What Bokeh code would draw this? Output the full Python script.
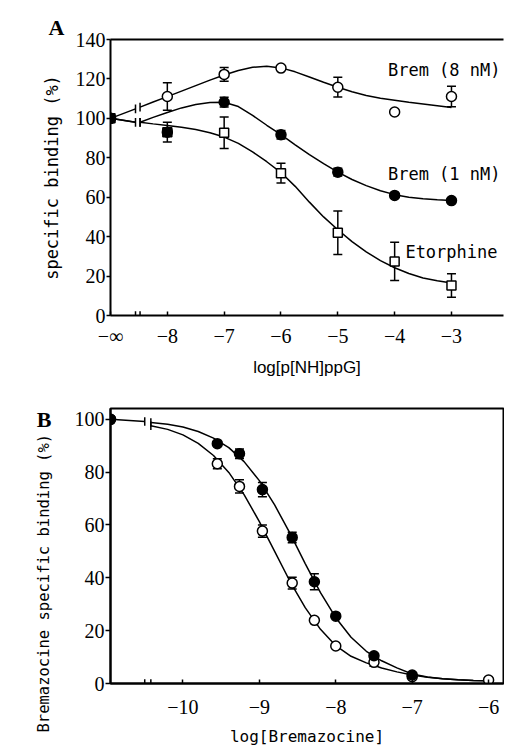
from bokeh.plotting import figure
from bokeh.models import (Range1d, LinearAxis, FixedTicker, Label, Whisker,
                          TeeHead, ColumnDataSource, Title)
from bokeh.layouts import column
from bokeh.embed import file_html
from bokeh.resources import INLINE

# ---------------- Panel A data ----------------
A_X = [-9, -8, -7, -6, -5, -4, -3]          # -9 is the "-inf" position
A_XTICKS = [-9, -8, -7, -6, -5, -4, -3]
A_XTICK_LABELS = ["−∞", "−8", "−7", "−6", "−5", "−4", "−3"]
A_YTICKS = [0, 20, 40, 60, 80, 100, 120, 140]

brem8_y = [100, 111.1, 122.3, 125.5, 115.8, 103.2, 111.1]
brem8_err = [0, 7.0, 3.5, 0, 5.0, 0, 5.2]
brem1_y = [100, 93.0, 108.2, 91.7, 72.7, 60.9, 58.3]
brem1_err = [0, 0, 2.5, 2.2, 2.0, 0, 0]
etor_y = [100, 93.0, 92.7, 72.2, 42.0, 27.4, 15.2]
etor_err = [0, 5.0, 8.0, 5.0, 11.0, 9.7, 6.0]

# fitted curves (lead-in to the axis break, then curve)
A_PRE_X = [-9, -8.56]
brem8_pre = [100, 104.8]
low_pre = [100, 98.0]
A_CURVE_X = [-8.48, -8.25, -8.0, -7.75, -7.5, -7.25, -7.0, -6.75, -6.5, -6.25,
             -6.0, -5.75, -5.5, -5.25, -5.0, -4.75, -4.5, -4.25, -4.0, -3.75,
             -3.5, -3.25, -3.0]
brem8_fit = [105.7, 108.3, 111.0, 113.8, 116.6, 119.4, 122.0, 124.3, 125.9, 126.4,
             125.6, 123.6, 121.0, 118.3, 115.8, 113.5, 111.6, 110.2, 109.2, 108.2,
             107.3, 106.4, 105.5]
brem1_fit = [98.0, 100.5, 103.0, 105.3, 107.0, 108.1, 108.2, 106.0, 101.5, 96.5,
             91.7, 86.6, 81.6, 77.0, 72.7, 69.0, 65.9, 63.3, 61.3, 60.0,
             59.2, 58.7, 58.3]
etor_fit = [98.0, 97.2, 96.4, 95.5, 94.3, 92.7, 90.5, 87.3, 83.0, 78.0,
            72.5, 65.5, 57.5, 50.0, 43.5, 37.5, 32.3, 27.8, 24.2, 21.3,
            19.0, 17.6, 16.5]

# ---------------- Panel B data ----------------
B_X = [-10.948, -9.55, -9.26, -8.96, -8.57, -8.28, -8.0, -7.5, -7.0, -6.0]
B_XTICKS = [-10, -9, -8, -7, -6]
B_XTICK_LABELS = ["−10", "−9", "−8", "−7", "−6"]
B_YTICKS = [0, 20, 40, 60, 80, 100]

open_y = [100, 83.2, 74.6, 57.7, 38.0, 23.9, 14.2, 8.0, 2.6, 1.3]
open_err = [0, 1.9, 2.5, 2.3, 2.2, 0, 0, 1.5, 0, 0]
filled_x = [-10.948, -9.55, -9.26, -8.96, -8.57, -8.28, -8.0, -7.5, -7.0]
filled_y = [100, 90.8, 87.0, 73.4, 55.3, 38.5, 25.5, 10.5, 3.2]
filled_err = [0, 0, 1.8, 2.7, 2.0, 3.0, 0, 0, 0]

B_PRE_X = [-10.948, -10.5]
b_pre = [100, 99.2]
B_CURVE_X = [-10.42, -10.2, -10.0, -9.8, -9.6, -9.4, -9.2, -9.0, -8.8, -8.6,
             -8.4, -8.2, -8.0, -7.8, -7.6, -7.4, -7.2, -7.0, -6.8, -6.6,
             -6.4, -6.2, -6.0]
open_fit = [97.6, 96.2, 94.1, 90.9, 86.3, 79.9, 71.5, 61.3, 50.0, 38.7,
            28.7, 20.5, 14.3, 10.3, 7.8, 5.9, 4.4, 3.2, 2.4, 1.8,
            1.4, 1.1, 1.0]
filled_fit = [98.8, 98.1, 97.1, 95.4, 92.9, 89.3, 84.0, 76.8, 67.6, 56.9,
              45.4, 34.4, 24.9, 17.5, 12.2, 8.6, 5.9, 3.6, 2.5, 1.8,
              1.4, 1.1, 1.0]

# ---------------- styling constants ----------------
TICK_FONT = "Liberation Sans Narrow"
TICK_SIZE = "20px"
MONO = "DejaVu Sans Mono"
W = 504


def base_fig(h, left, top, bottom, xr, yr):
    p = figure(width=W, height=h, x_range=Range1d(*xr), y_range=Range1d(*yr),
               output_backend="svg", toolbar_location=None,
               x_axis_type=None, y_axis_type=None,
               min_border_left=left, min_border_right=1,
               min_border_top=top, min_border_bottom=bottom)
    p.outline_line_color = None
    p.background_fill_color = "white"
    p.border_fill_color = "white"
    return p


def style(ax):
    ax.major_label_text_font = TICK_FONT
    ax.major_label_text_font_size = TICK_SIZE
    ax.major_label_text_color = "black"
    ax.axis_line_width = 2
    ax.axis_line_color = "black"
    ax.major_tick_line_width = 1.5
    ax.minor_tick_line_color = None
    ax.minor_tick_out = 0
    ax.minor_tick_in = 0
    ax.axis_label_text_font_style = "normal"
    ax.axis_label_text_color = "black"


def frame_line(p, side, bounds):
    ax = LinearAxis(ticker=FixedTicker(ticks=[]), bounds=bounds)
    style(ax)
    ax.major_tick_out = 0
    ax.major_tick_in = 0
    ax.major_label_standoff = 0
    p.add_layout(ax, side)


def add_errors(p, xs, ys, errs):
    bx = [x for x, e in zip(xs, errs) if e > 0]
    up = [y + e for y, e in zip(ys, errs) if e > 0]
    lo = [y - e for y, e in zip(ys, errs) if e > 0]
    src = ColumnDataSource(dict(base=bx, upper=up, lower=lo))
    p.add_layout(Whisker(source=src, base="base", upper="upper", lower="lower",
                         dimension="height", line_width=1.5, line_color="black",
                         upper_head=TeeHead(size=9, line_width=1.5),
                         lower_head=TeeHead(size=9, line_width=1.5)))


def break_marks(p, xs, ys, half):
    p.segment(x0=xs, x1=xs, y0=[y - half for y in ys], y1=[y + half for y in ys],
              line_width=1.5, line_color="black")


# ================= Panel A =================
A_X_RANGE = (-9.0, -2.0845)
A_Y_RANGE = (0, 140)
A_BREAK = (A_PRE_X[-1], A_CURVE_X[0])
pA = base_fig(382, 110, 39, 67, A_X_RANGE, A_Y_RANGE)

ya = LinearAxis(ticker=FixedTicker(ticks=A_YTICKS), axis_label="specific binding (%)")
style(ya)
ya.major_tick_out = 4
ya.major_tick_in = 0
ya.major_label_standoff = 1
ya.axis_label_text_font = MONO
ya.axis_label_text_font_size = "17px"
ya.axis_label_standoff = 11
pA.add_layout(ya, "left")

xa = LinearAxis(ticker=FixedTicker(ticks=A_XTICKS), axis_label="log[p[NH]ppG]",
                major_label_overrides=dict(zip(A_XTICKS, A_XTICK_LABELS)))
style(xa)
xa.major_tick_out = 0
xa.major_tick_in = 4
xa.major_label_standoff = 9
xa.axis_label_text_font = "Liberation Sans"
xa.axis_label_text_font_size = "17px"
xa.axis_label_standoff = 8
pA.add_layout(xa, "below")

frame_line(pA, "above", A_X_RANGE)
pA.add_layout(Title(text="A", align="left", offset=-62, standoff=0,
                    text_font="Liberation Serif", text_font_style="bold",
                    text_font_size="22px", text_color="black"), "above")

break_marks(pA, list(A_BREAK), [0, 0], 2.2)

# curves
for pre, fit in ((brem8_pre, brem8_fit), (low_pre, brem1_fit), (low_pre, etor_fit)):
    pA.line(A_PRE_X, pre, line_width=1.5, line_color="black")
    pA.line(A_CURVE_X, fit, line_width=1.5, line_color="black")
break_marks(pA, [A_PRE_X[-1], A_CURVE_X[0], A_PRE_X[-1], A_CURVE_X[0], A_CURVE_X[0]],
            [brem8_pre[-1], brem8_fit[0], low_pre[-1], brem1_fit[0], etor_fit[0]], 2.2)

# points
pA.scatter(A_X, etor_y, marker="square", size=9, fill_color="white",
           line_color="black", line_width=1.5)
pA.scatter(A_X, brem8_y, marker="circle", size=10, fill_color="white",
           line_color="black", line_width=1.5)
pA.scatter(A_X, brem1_y, marker="circle", size=10, fill_color="black",
           line_color="black", line_width=1.5)
add_errors(pA, A_X, etor_y, etor_err)
add_errors(pA, A_X, brem8_y, brem8_err)
add_errors(pA, A_X, brem1_y, brem1_err)

for txt, xx, yy in (("Brem (8 nM)", -2.137, 124.3), ("Brem (1 nM)", -2.137, 71.9),
                    ("Etorphine", -2.19, 32.0)):
    pA.add_layout(Label(x=xx, y=yy, text=txt, text_font=MONO, text_font_size="17px",
                        text_color="black", text_align="right", text_baseline="middle"))

# ================= Panel B =================
B_X_RANGE = (-10.948, -5.805)
B_Y_RANGE = (0, 104.1)
B_BREAK = (B_PRE_X[-1], B_CURVE_X[0])
pB = base_fig(366, 107, 26, 63, B_X_RANGE, B_Y_RANGE)
pB.outline_line_color = "black"
pB.outline_line_width = 2

yb = LinearAxis(ticker=FixedTicker(ticks=B_YTICKS))
style(yb)
yb.major_tick_out = 5
yb.major_tick_in = 0
yb.major_label_standoff = 1
pB.add_layout(yb, "left")
pB.add_layout(Title(text="Bremazocine specific binding (%)", align="left", offset=-49,
                    standoff=37, text_font=MONO, text_font_style="normal",
                    text_font_size="15.5px", text_color="black"), "left")

xb = LinearAxis(ticker=FixedTicker(ticks=B_XTICKS), axis_label="log[Bremazocine]",
                major_label_overrides=dict(zip(B_XTICKS, B_XTICK_LABELS)))
style(xb)
xb.major_tick_out = 0
xb.major_tick_in = 4
xb.major_label_standoff = 16
xb.axis_label_text_font = MONO
xb.axis_label_text_font_size = "16px"
xb.axis_label_standoff = 10
pB.add_layout(xb, "below")

pB.add_layout(Label(x=-11.818, y=100.0, text="B", text_font="Liberation Serif",
                    text_font_style="bold", text_font_size="22px", text_color="black",
                    text_align="center", text_baseline="alphabetic"), "above")

break_marks(pB, list(B_BREAK), [0, 0], 1.6)

pB.line(B_PRE_X, b_pre, line_width=1.5, line_color="black")
pB.line(B_CURVE_X, open_fit, line_width=1.5, line_color="black")
pB.line(B_CURVE_X, filled_fit, line_width=1.5, line_color="black")
break_marks(pB, [B_PRE_X[-1], B_CURVE_X[0], B_CURVE_X[0]],
            [b_pre[-1], open_fit[0], filled_fit[0]], 1.6)

pB.scatter(B_X, open_y, marker="circle", size=10, fill_color="white",
           line_color="black", line_width=1.5)
pB.scatter(filled_x, filled_y, marker="circle", size=10, fill_color="black",
           line_color="black", line_width=1.5)
add_errors(pB, B_X, open_y, open_err)
add_errors(pB, filled_x, filled_y, filled_err)

layout = column(pA, pB)
open("out.html", "w").write(file_html(layout, INLINE))
